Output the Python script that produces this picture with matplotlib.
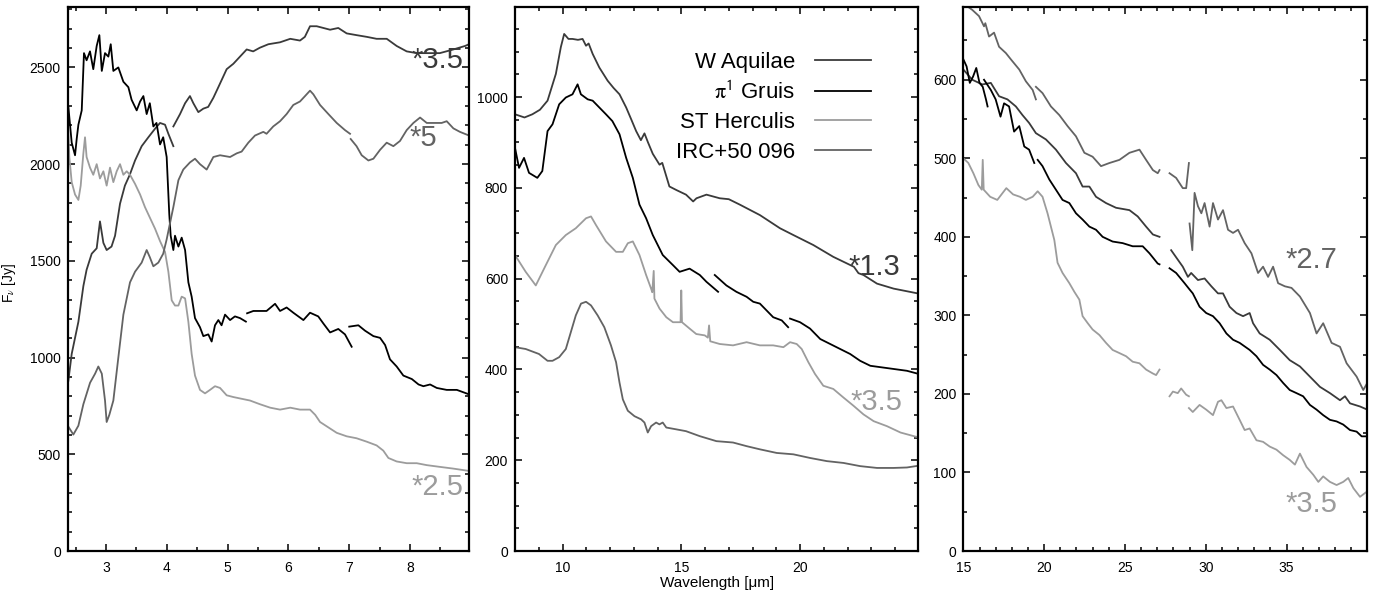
import numpy as np
import matplotlib
matplotlib.use('Agg')
import matplotlib.pyplot as plt
from matplotlib.ticker import MultipleLocator

plt.rcParams['font.family'] = ['Liberation Sans', 'DejaVu Sans']
plt.rcParams['mathtext.fontset'] = 'stix'

c_waql = '#3a3a3a'
c_gru = '#000000'
c_sther = '#9c9c9c'
c_irc = '#636363'

names = ['W Aquilae', r'$\mathrm{\pi}^{\mathsf{1}}$ Gruis', 'ST Herculis', 'IRC+50 096']

# ---- panel 1 (2.4 - 9 micron), None marks a gap between data pieces
p1_waql_wl = [2.38, 2.435, 2.545, 2.627, 2.68, 2.764, 2.846, 2.90, 2.956, 3.01,
              3.09, 3.148, 3.23, 3.31, 3.39, 3.477, 3.586, 3.696, 3.81, 3.888,
              3.97, 4.025, 4.107, None, 4.107, 4.217, 4.30, 4.38, 4.436, 4.518,
              4.60, 4.68, 4.765, 4.847, 4.984, 5.094, 5.23, 5.313, 5.42, 5.53,
              5.67, 5.862, 6.03, 6.19, 6.27, 6.355, 6.465, 6.575, 6.685, 6.82,
              6.958, 7.12, 7.29, 7.45, 7.617, 7.78, 7.945, 8.11, 8.275, 8.49,
              8.713, 8.905, 8.97]
p1_waql_f = [880, 1019, 1185, 1370, 1454, 1537, 1565, 1704, 1593, 1556,
             1574, 1630, 1796, 1889, 1945, 2019, 2093, 2139, 2185, 2213,
             2204, 2157, 2093, None, 2195, 2259, 2315, 2352, 2315, 2269,
             2287, 2296, 2343, 2398, 2491, 2519, 2565, 2593, 2583, 2602,
             2620, 2630, 2648, 2639, 2658, 2713, 2713, 2704, 2695, 2704,
             2676, 2667, 2658, 2648, 2648, 2611, 2583, 2574, 2574, 2574,
             2593, 2611, 2620]

p1_gru_wl = [2.38, 2.435, 2.49, 2.517, 2.545, 2.6, 2.637, 2.68, 2.736, 2.79,
             2.846, 2.89, 2.93, 2.983, 3.038, 3.077, 3.12, 3.202, 3.285, 3.367,
             3.42, 3.504, 3.56, 3.614, 3.668, 3.72, 3.778, 3.83, 3.888, 3.94,
             3.997, 4.04, 4.063, 4.107, 4.134, 4.19, 4.244, 4.3, 4.354, 4.408,
             4.463, 4.545, 4.6, 4.682, 4.737, 4.792, 4.847, 4.9, 4.957, 5.04,
             5.12, 5.204, 5.30, None, 5.32, 5.423, 5.53, 5.64, 5.78, 5.862,
             5.97, 6.08, 6.246, 6.355, 6.49, 6.575, 6.685, 6.82, 6.93, 7.04,
             None, 7.0, 7.15, 7.26, 7.397, 7.507, 7.59, 7.67, 7.78, 7.89,
             8.03, 8.14, 8.22, 8.33, 8.44, 8.603, 8.77, 8.97]
p1_gru_f = [2296, 2111, 2046, 2130, 2204, 2278, 2574, 2537, 2583, 2491,
            2611, 2667, 2482, 2574, 2556, 2620, 2482, 2500, 2426, 2398,
            2333, 2278, 2324, 2352, 2259, 2315, 2195, 2213, 2102, 2139,
            2037, 1741, 1630, 1556, 1630, 1574, 1620, 1556, 1389, 1315,
            1204, 1157, 1111, 1120, 1083, 1167, 1194, 1167, 1222, 1194,
            1213, 1204, 1186, None, 1229, 1241, 1241, 1241, 1278, 1241,
            1259, 1232, 1194, 1232, 1213, 1176, 1130, 1148, 1120, 1056,
            None, 1160, 1167, 1139, 1111, 1102, 1065, 991, 954, 907,
            889, 861, 852, 861, 843, 833, 833, 810]

p1_sther_wl = [2.37, 2.396, 2.435, 2.49, 2.545, 2.583, 2.627, 2.654, 2.68, 2.736,
               2.79, 2.846, 2.9, 2.956, 3.01, 3.065, 3.12, 3.175, 3.23, 3.285,
               3.34, 3.394, 3.477, 3.56, 3.64, 3.723, 3.805, 3.888, 3.97, 4.025,
               4.08, 4.134, 4.19, 4.244, 4.3, 4.354, 4.408, 4.463, 4.545, 4.628,
               4.71, 4.792, 4.875, 4.984, 5.094, 5.23, 5.368, 5.53, 5.70, 5.862,
               6.03, 6.19, 6.355, 6.44, 6.52, 6.657, 6.794, 6.958, 7.12, 7.29,
               7.45, 7.56, 7.644, 7.78, 7.945, 8.11, 8.275, 8.49, 8.713, 8.97]
p1_sther_f = [2241, 2037, 1907, 1843, 1815, 1889, 2056, 2139, 2037, 1982,
              1945, 2000, 1926, 1963, 1889, 1982, 1907, 1963, 2000, 1945,
              1963, 1945, 1898, 1843, 1778, 1722, 1667, 1602, 1546, 1444,
              1296, 1269, 1269, 1315, 1306, 1185, 1019, 907, 833, 815,
              833, 852, 843, 805, 796, 787, 778, 759, 741, 731,
              741, 731, 731, 704, 667, 639, 611, 593, 583, 565,
              546, 519, 481, 463, 454, 454, 444, 435, 426, 414]

p1_irc_wl = [2.37, 2.462, 2.545, 2.627, 2.737, 2.82, 2.873, 2.93, 2.983, 3.01,
             3.054, 3.12, 3.202, 3.285, 3.394, 3.477, 3.586, 3.668, 3.72, 3.778,
             3.86, 3.94, 3.997, 4.052, 4.107, 4.19, 4.27, 4.38, 4.463, 4.545,
             4.655, 4.765, 4.875, 5.04, 5.15, 5.23, 5.34, 5.45, 5.587, 5.64,
             5.75, 5.862, 5.97, 6.08, 6.19, 6.273, 6.355, 6.41, 6.52, 6.657,
             6.794, 6.93, 7.013, None, 7.024, 7.12, 7.205, 7.315, 7.397, 7.507,
             7.616, 7.726, 7.835, 7.945, 8.055, 8.165, 8.275, 8.384, 8.52, 8.603,
             8.713, 8.82, 8.97]
p1_irc_f = [648, 602, 648, 759, 870, 917, 954, 917, 778, 667,
            704, 778, 1000, 1222, 1389, 1444, 1491, 1556, 1519, 1472,
            1491, 1537, 1611, 1695, 1778, 1917, 1972, 2009, 2028, 2000,
            1972, 2037, 2046, 2037, 2056, 2065, 2111, 2148, 2167, 2157,
            2195, 2222, 2259, 2306, 2324, 2352, 2380, 2361, 2306, 2259,
            2213, 2176, 2157, None, 2130, 2093, 2046, 2019, 2028, 2074,
            2111, 2093, 2120, 2176, 2213, 2241, 2213, 2213, 2213, 2222,
            2185, 2167, 2148]

# ---- panel 2 (8 - 25 micron)
p2_waql_wl = [8.0, 8.4, 8.73, 9.05, 9.37, 9.72, 9.93, 10.07, 10.25, 10.42,
              10.65, 10.845, 10.99, 11.1, 11.27, 11.55, 11.9, 12.15, 12.4, 12.68,
              12.9, 13.1, 13.3, 13.45, 13.6, 13.8, 14.085, 14.2, 14.5, 14.8,
              15.2, 15.5, 15.64, 16.06, 16.62, 17.0, 17.465, 18.31, 19.155, 19.72,
              20.56, 21.4, 22.27, 22.46, 22.67, 23.24, 23.94, 25.0]
p2_waql_f = [962, 955, 962, 972, 992, 1051, 1110, 1139, 1128, 1128,
             1126, 1128, 1113, 1118, 1095, 1065, 1036, 1020, 1006, 977,
             950, 925, 905, 920, 900, 875, 851, 855, 803, 795,
             785, 770, 777, 785, 777, 775, 763, 740, 711, 696,
             674, 648, 626, 612, 608, 589, 578, 567]

p2_gru_wl = [8.0, 8.17, 8.38, 8.59, 8.94, 9.15, 9.37, 9.58, 9.86, 10.14,
             10.42, 10.635, 10.775, 11.06, 11.27, 11.55, 11.83, 12.1, 12.4, 12.68,
             12.96, 13.24, 13.52, 13.8, 14.22, 14.645, 14.93, 15.35, 15.78, 16.06,
             16.55, None, 16.41, 16.9, 17.32, 17.75, 18.03, 18.31, 18.59, 18.87,
             19.23, 19.5, None, 19.58, 20.0, 20.42, 20.85, 21.27, 21.69, 22.11,
             22.53, 22.96, 23.38, 23.94, 24.5, 25.0]
p2_gru_f = [888, 844, 866, 833, 822, 837, 925, 940, 984, 999,
            1006, 1028, 1006, 995, 992, 977, 962, 947, 918, 866,
            822, 763, 733, 696, 652, 630, 615, 622, 608, 593,
            571, None, 608, 585, 571, 560, 549, 545, 530, 515,
            508, 493, None, 512, 504, 490, 467, 456, 445, 434,
            419, 408, 405, 401, 397, 390]

p2_sther_wl = [8.0, 8.45, 8.875, 9.3, 9.72, 10.14, 10.56, 10.99, 11.2, 11.41,
               11.83, 12.255, 12.54, 12.75, 12.96, 13.24, 13.52, 13.73, 13.78, 13.84,
               13.87, 14.085, 14.37, 14.65, 14.97, 15.0, 15.03, 15.35, 15.63, 15.99,
               16.12, 16.17, 16.22, 16.62, 17.18, 17.75, 18.31, 18.87, 19.3, 19.58,
               19.86, 20.07, 20.35, 20.63, 20.98, 21.4, 21.83, 22.25, 22.67, 23.1,
               23.66, 24.23, 25.0]
p2_sther_f = [652, 615, 585, 630, 674, 696, 711, 733, 737, 718,
              682, 659, 659, 678, 682, 652, 608, 578, 570, 617,
              556, 534, 515, 504, 504, 574, 504, 490, 478, 475,
              470, 497, 462, 456, 453, 460, 453, 453, 449, 460,
              456, 445, 416, 390, 364, 357, 338, 320, 301, 286,
              275, 261, 250]

p2_irc_wl = [8.0, 8.45, 9.01, 9.37, 9.58, 9.86, 10.14, 10.35, 10.56, 10.78,
             10.99, 11.2, 11.48, 11.76, 12.04, 12.255, 12.4, 12.54, 12.75, 13.03,
             13.31, 13.45, 13.59, 13.73, 13.94, 14.08, 14.22, 14.37, 14.79, 15.2,
             15.78, 16.48, 17.18, 17.75, 18.31, 19.02, 19.72, 20.42, 21.13, 21.83,
             22.53, 23.24, 23.94, 24.5, 25.0]
p2_irc_f = [449, 445, 434, 419, 419, 427, 445, 482, 519, 545,
            549, 541, 519, 493, 453, 416, 371, 334, 309, 297,
            290, 283, 261, 275, 283, 279, 283, 272, 268, 264,
            253, 242, 239, 231, 224, 216, 213, 205, 198, 194,
            187, 183, 183, 184, 188]

# ---- panel 3 (15 - 40 micron)
p3_waql_wl = [15.0, 15.55, 16.18, 16.7, 17.21, 17.73, 18.25, 18.66, 19.07, 19.49,
              20.11, 20.73, 21.35, 21.97, 22.38, 22.8, 23.21, 23.83, 24.45, 25.28,
              25.79, 26.31, 26.73, 27.14, None, 27.86, 28.27, 28.58, 28.9, 29.1,
              29.52, 29.93, 30.35, 30.76, 31.07, 31.48, 31.9, 32.31, 32.72, 32.93,
              33.34, 33.96, 34.59, 35.2, 35.83, 36.45, 37.07, 37.69, 38.31, 38.62,
              38.93, 39.55, 40.0]
p3_waql_f = [613, 600, 594, 596, 579, 575, 566, 555, 545, 532,
             524, 511, 494, 481, 464, 464, 451, 443, 437, 434,
             426, 413, 403, 400, None, 383, 371, 362, 349, 354,
             345, 347, 337, 328, 328, 311, 303, 299, 303, 290,
             277, 269, 256, 243, 235, 222, 209, 201, 192, 197,
             188, 184, 180]

p3_gru_wl = [15.0, 15.2, 15.4, 15.6, 15.8, 16.0, 16.2, 16.4, 16.5, None,
             16.28, 16.7, 17.0, 17.3, 17.52, 17.83, 18.14, 18.46, 18.77, 19.07,
             19.39, None, 19.6, 19.9, 20.32, 20.73, 21.14, 21.56, 21.97, 22.38,
             22.8, 23.21, 23.62, 24.24, 24.86, 25.48, 26.1, 26.52, 27.03, 27.14,
             None, 27.76, 28.17, 28.69, 29.0, 29.2, 29.62, 30.03, 30.45, 30.86,
             31.28, 31.69, 32.1, 32.72, 33.14, 33.55, 33.96, 34.38, 34.79, 35.2,
             35.62, 36.03, 36.45, 36.86, 37.27, 37.69, 38.1, 38.51, 38.93, 39.34,
             39.65, 40.0]
p3_gru_f = [626, 617, 596, 604, 615, 596, 591, 575, 566, None,
            600, 587, 575, 553, 570, 566, 534, 541, 515, 511,
            494, None, 498, 490, 473, 460, 447, 443, 430, 422,
            413, 409, 400, 394, 392, 388, 388, 379, 366, 365,
            None, 360, 354, 341, 333, 328, 311, 303, 299, 290,
            277, 269, 265, 256, 248, 237, 231, 224, 214, 205,
            201, 197, 186, 180, 173, 167, 165, 161, 154, 152,
            146, 146]

p3_sther_wl = [15.0, 15.31, 15.62, 15.93, 16.14, 16.2, 16.26, 16.66, 17.1, 17.66,
               18.08, 18.5, 18.87, 19.29, 19.6, 19.9, 20.21, 20.42, 20.63, 20.83,
               21.14, 21.56, 21.87, 22.18, 22.38, 22.7, 23.0, 23.42, 23.83, 24.24,
               24.66, 25.07, 25.48, 25.9, 26.31, 26.73, 26.93, 27.14, None, 27.76,
               27.97, 28.27, 28.48, 28.79, 28.96, None, 28.96, 29.2, 29.62, 30.03,
               30.45, 30.76, 30.97, 31.28, 31.69, 32.1, 32.41, 32.72, 33.14, 33.55,
               33.96, 34.38, 34.79, 35.2, 35.52, 35.83, 36.24, 36.66, 36.97, 37.27,
               37.69, 38.1, 38.51, 38.82, 39.14, 39.55, 40.0]
p3_sther_f = [500, 494, 481, 466, 460, 498, 460, 451, 447, 462,
              454, 451, 447, 451, 458, 451, 430, 413, 396, 367,
              354, 341, 330, 320, 299, 290, 282, 275, 265, 256,
              252, 248, 241, 239, 231, 226, 224, 231, None, 197,
              203, 201, 207, 199, 197, None, 182, 177, 186, 180,
              173, 190, 192, 182, 184, 167, 154, 156, 141, 139,
              133, 129, 122, 116, 110, 124, 107, 97, 88, 95,
              88, 84, 88, 93, 80, 69, 76]

p3_irc_wl = [15.0, 15.55, 15.97, 16.28, 16.36, 16.59, 16.9, 17.21, 17.63, 17.94,
             18.46, 18.87, 19.29, 19.49, None, 19.49, 19.9, 20.42, 20.94, 21.45,
             21.97, 22.49, 23.0, 23.52, 24.04, 24.66, 25.28, 25.9, 26.31, 26.73,
             27.03, 27.14, None, 27.76, 28.17, 28.58, 28.79, 28.96, None, 29.0,
             29.17, 29.31, 29.52, 29.73, 29.93, 30.24, 30.45, 30.76, 31.07, 31.38,
             31.69, 32.0, 32.41, 32.83, 33.24, 33.55, 33.86, 34.17, 34.48, 34.9,
             35.31, 35.83, 36.45, 36.86, 37.27, 37.79, 38.31, 38.72, 39.34, 39.75,
             40.0]
p3_irc_f = [697, 689, 681, 668, 672, 655, 660, 642, 634, 626,
            613, 598, 587, 575, None, 591, 583, 566, 555, 541,
            528, 507, 502, 490, 494, 498, 507, 511, 498, 485,
            481, 485, None, 481, 475, 462, 462, 494, None, 417,
            383, 456, 439, 430, 443, 413, 443, 422, 434, 409,
            405, 409, 392, 379, 354, 362, 349, 362, 341, 337,
            335, 324, 303, 277, 290, 265, 260, 239, 222, 205,
            214]

# scale factors written on the plot
p1_notes = ['*3.5', '*5', '*2.5']
p2_notes = ['*1.3', '*3.5']
p3_notes = ['*2.7', '*3.5']


def arr(v):
    return np.array(v, dtype=float)


fig = plt.figure(figsize=(13.77, 5.93), dpi=100)
ax1 = fig.add_axes([0.0492, 0.0708, 0.2914, 0.9179])
ax2 = fig.add_axes([0.3740, 0.0708, 0.2929, 0.9179])
ax3 = fig.add_axes([0.6996, 0.0708, 0.2930, 0.9179])

lw = 1.3
panels = [
    (ax1, [(p1_waql_wl, p1_waql_f), (p1_gru_wl, p1_gru_f),
           (p1_sther_wl, p1_sther_f), (p1_irc_wl, p1_irc_f)]),
    (ax2, [(p2_waql_wl, p2_waql_f), (p2_gru_wl, p2_gru_f),
           (p2_sther_wl, p2_sther_f), (p2_irc_wl, p2_irc_f)]),
    (ax3, [(p3_waql_wl, p3_waql_f), (p3_gru_wl, p3_gru_f),
           (p3_sther_wl, p3_sther_f), (p3_irc_wl, p3_irc_f)]),
]
colors = [c_waql, c_gru, c_sther, c_irc]

for ax, series in panels:
    for (wl, f), col, name in zip(series, colors, names):
        ax.plot(arr(wl), arr(f), color=col, lw=lw, label=name)

ax1.set_xlim(2.37, 8.97)
ax1.set_ylim(0, 2814)
ax1.xaxis.set_major_locator(MultipleLocator(1))
ax1.xaxis.set_minor_locator(MultipleLocator(0.5))
ax1.yaxis.set_major_locator(MultipleLocator(500))
ax1.yaxis.set_minor_locator(MultipleLocator(100))

ax2.set_xlim(8, 24.98)
ax2.set_ylim(0, 1199)
ax2.xaxis.set_major_locator(MultipleLocator(5))
ax2.xaxis.set_minor_locator(MultipleLocator(1))
ax2.yaxis.set_major_locator(MultipleLocator(200))
ax2.yaxis.set_minor_locator(MultipleLocator(50))

ax3.set_xlim(15, 39.97)
ax3.set_ylim(0, 693)
ax3.xaxis.set_major_locator(MultipleLocator(5))
ax3.xaxis.set_minor_locator(MultipleLocator(1))
ax3.yaxis.set_major_locator(MultipleLocator(100))
ax3.yaxis.set_minor_locator(MultipleLocator(50))

for ax in (ax1, ax2, ax3):
    for s in ax.spines.values():
        s.set_linewidth(1.6)
    ax.tick_params(which='both', direction='in', top=True, right=True,
                   width=1.1, labelsize=10)
    ax.tick_params(which='major', length=5, pad=5)
    ax.tick_params(which='minor', length=3)
    ax.tick_params(axis='x', pad=7)

ax1.set_ylabel(r'F$_\nu$ [Jy]', fontsize=10)
ax1.yaxis.set_label_coords(-0.125, 0.492)
ax2.set_xlabel('Wavelength [\u03bcm]', fontsize=11, labelpad=1)

note_kw = dict(ha='right', va='baseline', fontsize=21)
ax1.text(0.985, 0.887, p1_notes[0], color=c_waql, transform=ax1.transAxes, **note_kw)
ax1.text(0.920, 0.744, p1_notes[1], color=c_irc, transform=ax1.transAxes, **note_kw)
ax1.text(0.985, 0.103, p1_notes[2], color=c_sther, transform=ax1.transAxes, **note_kw)
ax2.text(0.955, 0.507, p2_notes[0], color=c_waql, transform=ax2.transAxes, **note_kw)
ax2.text(0.960, 0.259, p2_notes[1], color=c_sther, transform=ax2.transAxes, **note_kw)
ax3.text(0.926, 0.520, p3_notes[0], color=c_irc, transform=ax3.transAxes, **note_kw)
ax3.text(0.928, 0.072, p3_notes[1], color=c_sther, transform=ax3.transAxes, **note_kw)

ax2.legend(loc='upper right', bbox_to_anchor=(0.882, 0.917), frameon=False,
           markerfirst=False, fontsize=16, handlelength=2.5, handletextpad=0.9,
           labelspacing=0.38, borderpad=0, borderaxespad=0)

fig.savefig('out.png', dpi=100)
